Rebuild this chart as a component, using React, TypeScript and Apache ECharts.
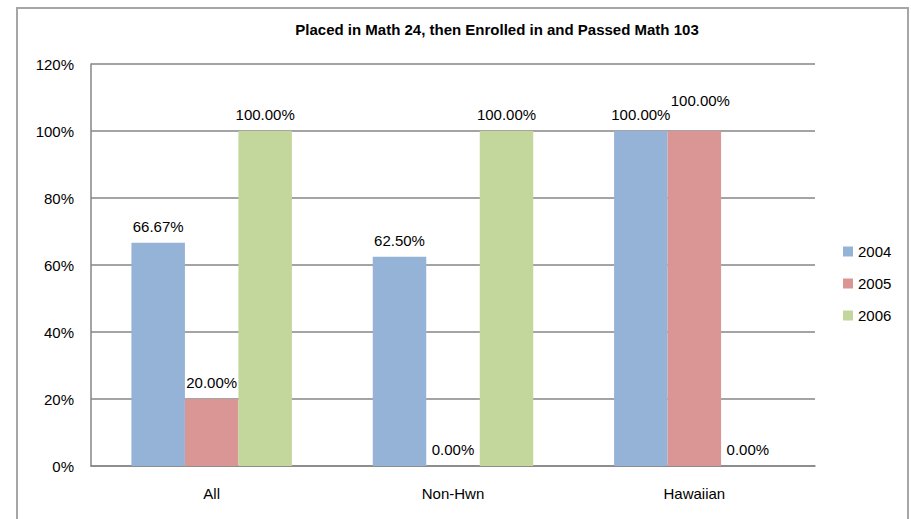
import React, { useEffect, useRef } from "react";
import * as echarts from "echarts";

const categories = ["All", "Non-Hwn", "Hawaiian"];
const seriesNames = ["2004", "2005", "2006"];
const values2004 = [66.67, 62.5, 100];
const values2005 = [20, 0, 100];
const values2006 = [100, 100, 0];
const colors = ["#95B3D7", "#D99694", "#C3D69B"];
const titleText = "Placed in Math 24, then Enrolled in and Passed Math 103";

const FONT = "'Liberation Sans', Arial, sans-serif";

export default function App() {
  const ref = useRef<HTMLDivElement>(null);
  useEffect(() => {
    document.body.style.margin = "0";
    if (!ref.current) return;
    const chart = echarts.init(ref.current, null, { renderer: "svg" });
    const all = [values2004, values2005, values2006];
    const labelOffsets: Record<string, [number, number]> = {
      "1-2": [6, -14],
    };
    chart.setOption({
      animation: false,
      backgroundColor: "#ffffff",
      textStyle: { fontFamily: FONT },
      title: {
        text: titleText,
        left: 497,
        top: 22,
        textAlign: "center",
        padding: 0,
        textStyle: { fontSize: 15, fontWeight: "bold", color: "#000", fontFamily: FONT },
      },
      graphic: [
        {
          type: "rect",
          shape: { x: 17, y: 8, width: 891, height: 530 },
          style: { fill: "none", stroke: "#a6a6a6", lineWidth: 2 },
          silent: true,
          z: 100,
        },
      ],
      legend: {
        orient: "vertical",
        left: 843,
        top: 244,
        padding: 0,
        itemWidth: 10,
        itemHeight: 10,
        itemGap: 17,
        icon: "rect",
        textStyle: { fontSize: 15, color: "#000", fontFamily: FONT },
        data: seriesNames,
      },
      grid: { left: 91, right: 96, top: 64, bottom: 53, containLabel: false },
      xAxis: {
        type: "category",
        data: categories,
        axisLine: { lineStyle: { color: "#868686", width: 1.5 } },
        axisTick: { show: false },
        axisLabel: { color: "#000", fontSize: 15, margin: 20, fontFamily: FONT },
      },
      yAxis: {
        type: "value",
        min: 0,
        max: 120,
        interval: 20,
        axisLine: { show: true, lineStyle: { color: "#868686", width: 1.5 } },
        axisTick: { show: false },
        splitLine: { lineStyle: { color: "#868686", width: 1.5 } },
        axisLabel: { color: "#000", fontSize: 15, margin: 17, formatter: "{value}%", fontFamily: FONT },
      },
      series: seriesNames.map((name, si) => ({
        name,
        type: "bar",
        barGap: "0%",
        barCategoryGap: "33.5%",
        itemStyle: { color: colors[si] },
        label: {
          show: true,
          position: "top",
          distance: 9,
          color: "#000",
          fontSize: 15,
          fontFamily: FONT,
          formatter: (p: any) => Number(p.value).toFixed(2) + "%",
        },
        data: all[si].map((v, ci) => {
          const off = labelOffsets[`${si}-${ci}`];
          return off ? { value: v, label: { offset: off } } : v;
        }),
      })),
    });
    return () => chart.dispose();
  }, []);
  return <div ref={ref} style={{ width: 911, height: 519 }} />;
}
